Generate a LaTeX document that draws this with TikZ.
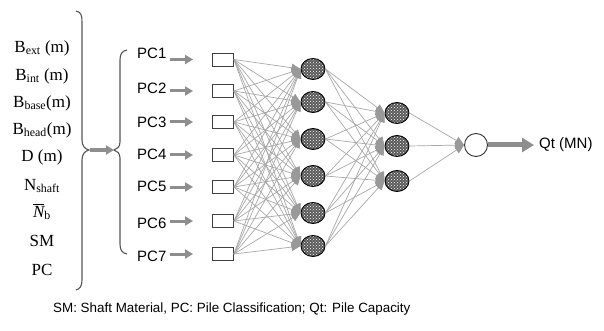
\documentclass[tikz,border=0pt]{standalone}
\usepackage{fontspec}
\setmainfont{Liberation Serif}
\newfontfamily\arialf{Liberation Sans}
\usetikzlibrary{arrows.meta,patterns,shapes.geometric}
\definecolor{connc}{HTML}{A8A8A8}
\definecolor{headc}{HTML}{999999}
\definecolor{fatc}{HTML}{8E8E8E}
\definecolor{bracec}{HTML}{555555}
\begin{document}
\begin{tikzpicture}[x=1pt,y=-1pt,
  serlab/.style={font=\fontsize{17}{19}\selectfont, inner sep=0pt},
  pclab/.style={font=\arialf\fontsize{15}{17}\selectfont, inner sep=0pt, anchor=west},
  inbox/.style={draw=black!75, line width=0.9pt, minimum width=21pt, minimum height=13pt, inner sep=0pt},
  hid/.style={ellipse, draw=black, line width=0.9pt, minimum width=24pt, minimum height=21pt, inner sep=0pt,
     preaction={fill=black!65}, pattern=crosshatch dots, pattern color=white},
  outn/.style={circle, draw=black!80, line width=0.9pt, fill=white, minimum size=23pt, inner sep=0pt},
  conn/.style={draw=connc, line width=0.7pt, -{Triangle[length=9pt,width=8pt,fill=headc,color=headc]}},
  fat/.style={draw=fatc, line width=3pt, -{Triangle[length=8pt,width=9pt]}},
  brace/.style={draw=bracec, line width=1.1pt}
]
\fill[white] (0,0) rectangle (604,331);
\useasboundingbox (0,0) rectangle (604,331);

% left labels
\node[serlab] (l1) at (42,48) {B\textsubscript{ext} (m)};
\node[serlab] (l2) at (42,76) {B\textsubscript{int} (m)};
\node[serlab] (l3) at (42,103) {B\textsubscript{base}(m)};
\node[serlab] (l4) at (42,130) {B\textsubscript{head}(m)};
\node[serlab] (l5) at (42,157) {D (m)};
\node[serlab] (l6) at (42,186) {N\textsubscript{shaft}};
\node[serlab] (l7) at (42,212) {$\overline{\hbox{\itshape N}}$\textsubscript{b}};
\node[serlab] (l8) at (42,241) {SM};
\node[serlab] (l9) at (42,270) {PC};

% braces
\coordinate (bigtip) at (89,150);
\coordinate (smalltip) at (114,150);
\draw[brace] (76,11) .. controls (81,12) and (82,15) .. (82,22) -- (82,140)
  .. controls (82,146) and (85,149) .. (bigtip)
  .. controls (85,151) and (82,154) .. (82,160) -- (82,280)
  .. controls (82,286) and (80,289) .. (76,290);
\draw[brace] (127,50) .. controls (122,51) and (120,54) .. (120,60) -- (120,142)
  .. controls (120,147) and (117,149) .. (smalltip)
  .. controls (117,151) and (120,153) .. (120,158) -- (120,244)
  .. controls (120,250) and (122,253) .. (127,254);
\draw[fatc, line width=3.5pt, -{Triangle[length=8pt,width=9pt]}, shorten <=1pt] (bigtip) -- (smalltip);

% PC labels and input boxes
\foreach \i/\ly/\by in {1/53/59.5, 2/88/91, 3/122/122, 4/154/155, 5/186/187, 6/223/221, 7/256/254}{
  \node[pclab] (p\i) at (137,\ly) {PC\i};
  \node[inbox] (b\i) at (223,\by) {};
  \draw[fat, shorten <=3pt, shorten >=19pt] (p\i.east |- b\i.west) -- (b\i.west);
}

% hidden layer 1
\foreach \j/\y in {1/69, 2/102, 3/139, 4/176, 5/213, 6/246}{
  \node[hid] (h\j) at (313,\y) {};
}
% hidden layer 2
\foreach \k/\y in {1/113, 2/146, 3/181}{
  \node[hid] (k\k) at (397,\y) {};
}
% output
\node[outn] (o) at (476,145) {};
\node[pclab] (qt) at (539,145) {Qt (MN)};

% connections
\foreach \i in {1,...,7}{
  \foreach \j in {1,...,6}{
    \draw[conn] (b\i.east) -- (h\j.west);
  }
}
\foreach \j in {1,...,6}{
  \foreach \k in {1,...,3}{
    \draw[conn] (h\j.east) -- (k\k.west);
  }
}
\foreach \k in {1,...,3}{
  \draw[conn] (k\k.east) -- (o.west);
}
\draw[fatc, line width=5pt, -{Triangle[length=12pt,width=14pt]}, shorten >=5pt] (o.east) -- (qt.west);

% footer
\node[pclab, font=\arialf\fontsize{13.4}{15}\selectfont] (foot) at (53,309) {SM: Shaft Material, PC: Pile Classification; Qt: Pile Capacity};
\end{tikzpicture}
\end{document}
